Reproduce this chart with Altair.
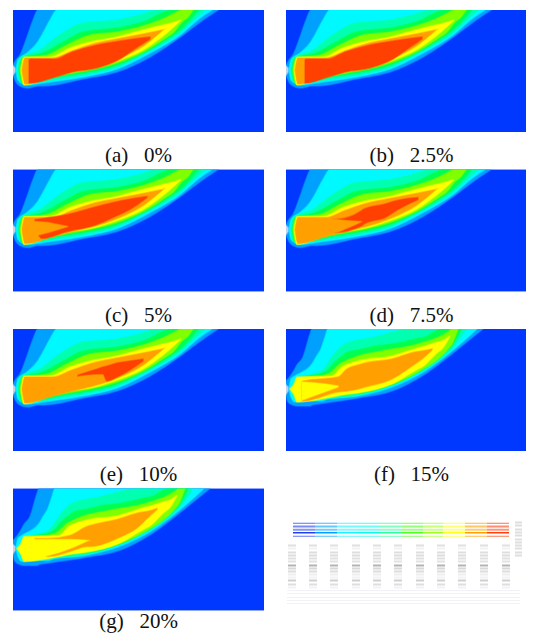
import altair as alt
import pandas as pd

# band colours
BG, LB, CY, TE, GR, LI, YE, OR, RE = ("#0038ff", "#00a0ff", "#00f8ff", "#00ffb0", "#00ff50",
                                       "#80ff00", "#ffff00", "#ffa000", "#ff4000")

# contour envelopes: (colour, x, upper edge, lower edge); y counted downwards
bg = (BG, [0, 251], [0, 0], [122, 122])
tip = ("#c0d4f0", [0, 2], [56, 58], [65, 62])

group_a = [
 (LB, [0,3,7,14,20,25,30,70,104,137,170,190,205],
      [55,50,45,27,10,0,0,0,0,0,0,0,0],
      [65,72,76,78,77,76,76,69,62,47,25,10,0]),
 (CY, [3,5,14,24,30,37,44,70,104,137,167,187,199],
      [60,50,43,33,23,10,0,0,0,0,0,0,0],
      [60,70,75,74,73,72,71,67,59,43,25,8,0]),
 (TE, [5,7,27,44,70,104,127,144,165,185,192],
      [60,48,40,27,13,10,5,0,0,0,0],
      [60,72,72,69,65,57,46,37,24,6,0]),
 (GR, [6,9,30,50,70,104,130,160,163,182,185],
      [60,49,43,32,22,18,12,0,0,0,0],
      [60,73,70,66,63,55,43,25,23,4,0]),
 (LI, [7,10,34,54,77,104,130,154,160,169,175,180],
      [60,48,45,35,25,22,16,7,4,0,0,0],
      [60,74,68,64,60,53,42,27,23,12,7,0]),
 (YE, [8,11,37,57,77,104,130,150,155,168],
      [60,47,47,38,32,27,20,15,14,10],
      [60,75,67,62,59,51,40,26,22,10]),
 (OR, [9,12,40,59,80,104,130,150],
      [60,48,48,41,34,29,24,20],
      [60,74,67,62,57,49,36,20]),
]
group_f = [
 (LB, [0,2,7,11,17,24,26,32,72,106,139,172,197],
      [52,50,43,36,28,5,0,0,0,0,0,0,0],
      [66,73,76,77,77,77,76,75,69,62,45,20,0]),
 (CY, [3,5,9,26,32,34,39,42,72,106,139,172,191],
      [60,50,47,35,25,22,8,0,0,0,0,0,0],
      [60,68,73,72,72,72,71,70,67,58,42,17,0]),
 (TE, [5,11,36,46,59,89,126,139,167,180],
      [60,50,42,28,15,8,0,0,0,0],
      [60,72,70,69,68,62,46,40,18,0]),
 (GR, [10,12,39,49,62,72,89,106,129,139,156,165,175],
      [60,50,43,33,23,21,17,15,10,8,0,0,0],
      [60,71,68,66,65,64,61,56,45,39,24,18,0]),
 (LI, [11,14,42,54,69,96,132,162,166,172],
      [60,50,45,35,28,22,15,3,0,0],
      [60,71,67,65,63,58,43,20,15,0]),
 (YE, [4,8,11,46,56,72,106,132,136,152,156,164],
      [60,55,48,47,38,32,27,19,18,13,12,7],
      [60,66,73,68,66,64,55,40,38,23,20,7]),
]

# hottest region of each panel
core_a = [(RE, [16,18,42,59,84,107,120,137], [50,49,49,42,35,31,29,27], [73,73,67,62,58,49,40,29])]
core_b = [(RE, [19,20,42,59,84,107,120,136], [50,49,49,42,35,31,29,27], [73,73,67,62,58,49,40,29])]
core_c = [(RE, [22,29,54,84,100,120,134], [50,49,45,37,33,29,27], [58,69,62,55,48,38,28]),
          (OR, [20,35,45,55], [52,53,55,57], [67,63,60,57])]
core_d = [(RE, [47,49,76,77,101,107,132], [50,50,41,40,34,32,28], [50,63,56,55,47,43,30]),
          (OR, [45,49,60,76], [50,50,51,52], [63,63,59,52])]
core_e = [(RE, [65,84,90,94,104,110,130], [46,40,38,37,34,33,30], [47,45,45,52,48,45,32])]
core_f = [(OR, [16,17,52,61,72,79,106,129,136,146], [53,52,48,40,36,34,30,23,22,20], [72,72,63,62,60,58,50,35,30,21]),
          (YE, [16,30,52], [53,54,57], [71,66,58])]
core_g = [(OR, [22,35,57,74,77,104,127,134,144], [50,50,47,38,37,31,24,23,20], [52,68,63,58,58,50,37,30,21]),
          (YE, [20,35,57,75], [51,51,51,52], [70,67,60,52])]

captions = ["(a)\u00a0\u00a0\u00a00%", "(b)\u00a0\u00a0\u00a02.5%", "(c)\u00a0\u00a0\u00a05%", "(d)\u00a0\u00a0\u00a07.5%",
            "(e)\u00a0\u00a0\u00a010%", "(f)\u00a0\u00a0\u00a015%", "(g)\u00a0\u00a0\u00a020%", " "]

# thumbnail of the table in the last cell
strip_colors = ["#2040f0", "#00a0ff", "#20f0ff", "#10f8e8", "#30ffa0", "#50ff20", "#a0ff20", "#ffff20", "#ffa000", "#ff4010"]
strip_edges = [7, 29, 51, 72, 94, 116, 137, 157, 179, 201, 223]
strip_rows = [34.7, 38, 41.3, 44.3, 47.7]
strip_heights = [1.0, 2.0, 2.0, 1.6, 1.0]
strip_opacity = [0.75, 0.6, 0.55, 1.0, 0.7]
table_cols = [2, 23, 44, 66, 87, 108, 130, 151, 172, 194, 216]
table_rows = [57, 60, 64, 67, 70, 73, 77, 80, 83, 86, 89, 92, 96, 99]
table_shades = ["#e0e0e0", "#f2f2f2", "#dedede", "#dcdcdc", "#e0e0e0", "#e2e2e2", "#b4b4b4", "#d8d8d8",
                "#dcdcdc", "#eeeeee", "#f2f2f2", "#d0d0d0", "#dedede", "#f2f2f2"]
side_rows = [34, 37, 41, 44, 47, 51, 54, 57, 60, 64, 67]
faint_rows = [102, 105, 109, 112, 115]


def panel(bands, caption, w, offset, dx):
    x = alt.X("x:Q", axis=None, scale=alt.Scale(domain=[0, w], nice=False, zero=False))
    y = alt.Y("y:Q", axis=None, scale=alt.Scale(domain=[122, 0], nice=False, zero=False))
    layers = []
    for color, xs, top, bot in bands:
        df = pd.DataFrame({"x": xs, "y": top, "y2": bot})
        layers.append(alt.Chart(df).mark_area(color=color, interpolate="monotone", clip=True, opacity=1,
                                              stroke=color, strokeWidth=1.6, strokeOpacity=0.5)
                      .encode(x=x, y=y, y2="y2:Q"))
    return alt.layer(*layers).properties(
        width=w, height=122,
        title=alt.Title(caption, orient="bottom", font="Liberation Serif", fontSize=21,
                        fontWeight="normal", color="#111111", anchor="middle", offset=offset, dx=dx))


def thumb(caption, w, offset):
    x = alt.X("x:Q", axis=None, scale=alt.Scale(domain=[0, w], nice=False, zero=False))
    y = alt.Y("y:Q", axis=None, scale=alt.Scale(domain=[122, 0], nice=False, zero=False))
    rows = []
    for r, h, o in zip(strip_rows, strip_heights, strip_opacity):
        for i, c in enumerate(strip_colors):
            rows.append(dict(x=strip_edges[i], x2=strip_edges[i + 1], y=r - h / 2, y2=r + h / 2, c=c, o=o))
    for r, s in zip(table_rows, table_shades):
        for cx in table_cols:
            rows.append(dict(x=cx, x2=cx + 8, y=r - 1.1, y2=r + 1.1, c=s, o=1))
    for r in side_rows:
        rows.append(dict(x=229, x2=236, y=r - 1.1, y2=r + 1.1, c="#dedede", o=1))
    for r in faint_rows:
        rows.append(dict(x=1, x2=234, y=r - 0.5, y2=r + 0.5, c="#f0f2f8", o=1))
    df = pd.DataFrame(rows)
    return alt.Chart(df).mark_rect(clip=True).encode(
        x=x, x2="x2:Q", y=y, y2="y2:Q",
        color=alt.Color("c:N", scale=None),
        opacity=alt.Opacity("o:Q", scale=None),
    ).properties(width=w, height=122,
                 title=alt.Title(caption, orient="bottom", font="Liberation Serif", fontSize=21,
                                 fontWeight="normal", anchor="middle", offset=offset))


W1, W2 = 251, 240
OFF, OFF_LAST, SHIFT = 13, 0, 5.5
p = [
    panel([bg] + group_a + core_a + [tip], captions[0], W1, OFF, 0),
    panel([bg] + group_a + core_b + [tip], captions[1], W2, OFF, SHIFT),
    panel([bg] + group_a + core_c + [tip], captions[2], W1, OFF, 0),
    panel([bg] + group_a + core_d + [tip], captions[3], W2, OFF, SHIFT),
    panel([bg] + group_a + core_e + [tip], captions[4], W1, OFF, 0),
    panel([bg] + group_f + core_f + [tip], captions[5], W2, OFF, SHIFT),
    panel([bg] + group_f + core_g + [tip], captions[6], W1, OFF_LAST, 0),
    thumb(captions[7], W2, OFF_LAST),
]
rows = [alt.hconcat(p[i], p[i + 1], spacing=22) for i in (0, 2, 4, 6)]
chart = alt.vconcat(*rows, spacing=3.5).properties(
    padding={"left": 5, "top": 2, "right": 0, "bottom": 3},
    background="white",
).configure_view(stroke=None)
chart.save("out.html", embed_options={"renderer": "svg", "actions": False})
